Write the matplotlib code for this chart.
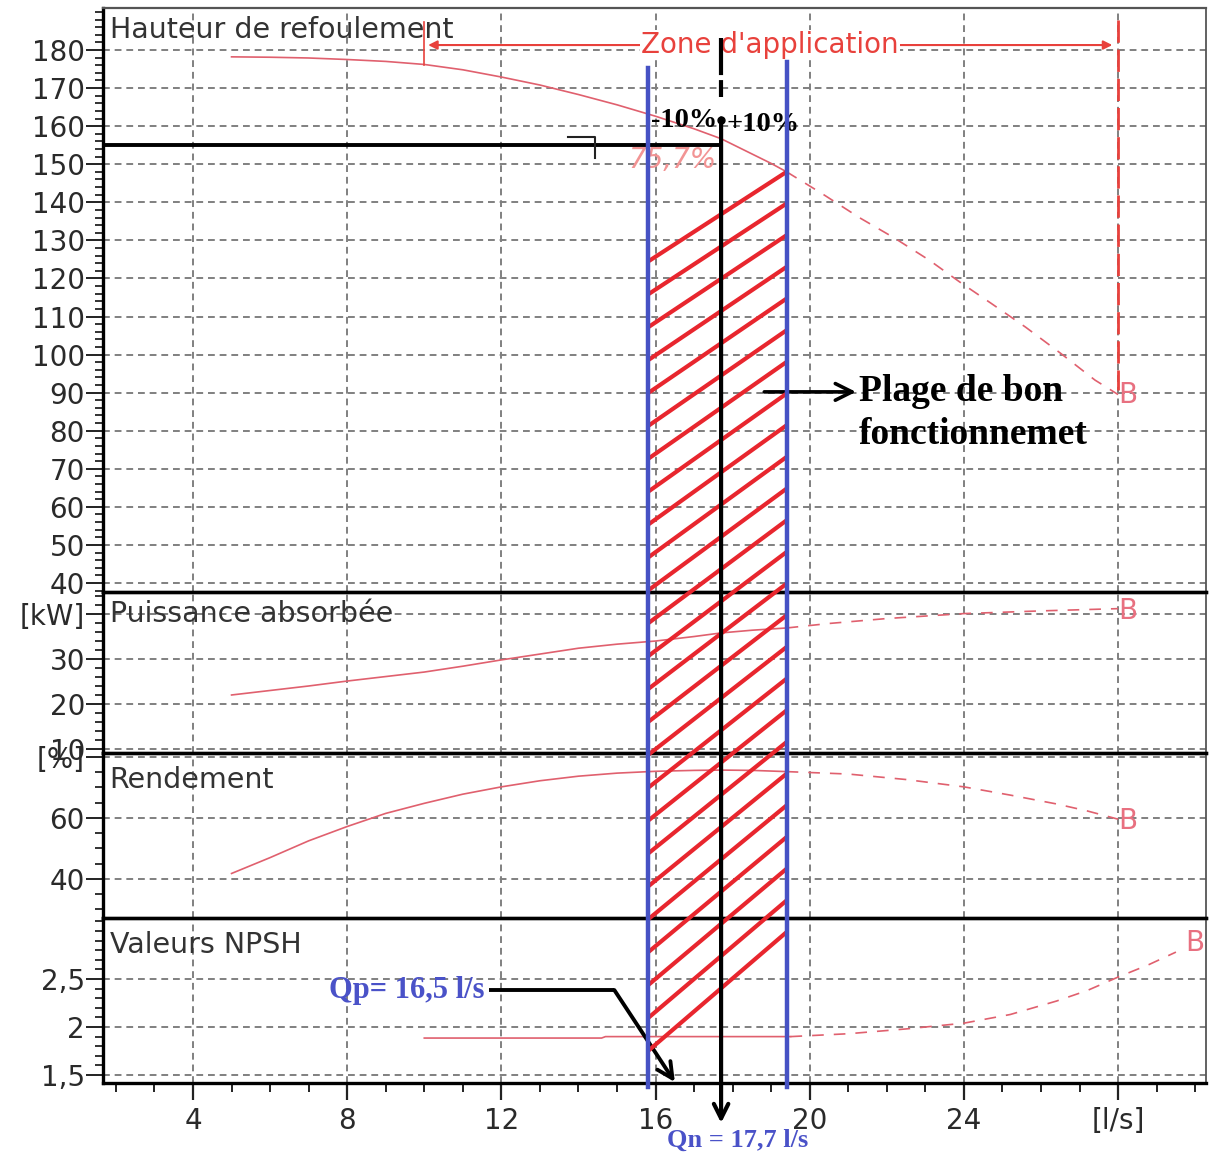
import numpy as np
import matplotlib
matplotlib.use("Agg")
import matplotlib.pyplot as plt
from matplotlib.ticker import MultipleLocator, FixedLocator

# ---------------------------------------------------------------- data
# Head curve H(Q): solid over the selected range, dashed beyond
q_head = [5, 6, 7, 8, 9, 10, 11, 12, 13, 14, 15, 16, 17, 17.7, 18, 19, 19.4]
head = [178.2, 178.1, 177.9, 177.5, 177.0, 176.2, 174.8, 172.9, 170.8, 168.3,
        165.6, 162.6, 159.3, 156.7, 155.2, 150.2, 148.0]
q_head_ext = [19.4, 20.3, 21.3, 22.2, 23.1, 23.9, 24.7, 25.6, 26.5, 27.4, 28.0]
head_ext = [148.0, 142.4, 135.9, 130.6, 124.8, 119.0, 113.5, 107.2, 100.4, 93.3, 89.5]

# Absorbed power P(Q) [kW]
q_pow = [5, 6, 7, 8, 9, 10, 11, 12, 13, 14, 15, 16, 17, 17.7, 18.5, 19.4]
power = [22.0, 23.0, 24.0, 25.1, 26.1, 27.1, 28.4, 29.8, 31.1, 32.4, 33.3,
         34.0, 35.0, 35.8, 36.4, 36.9]
q_pow_ext = [19.4, 20.5, 22.0, 24.0, 26.0, 28.0]
power_ext = [36.9, 37.9, 39.0, 40.1, 40.7, 41.2]

# Efficiency eta(Q) [%]
q_eff = [5, 6, 7, 8, 9, 10, 11, 12, 13, 14, 15, 16, 17, 17.7, 18.5, 19.4]
eff = [41.8, 47.0, 52.5, 57.2, 61.5, 64.8, 67.8, 70.2, 72.2, 73.7, 74.7,
       75.3, 75.6, 75.7, 75.6, 75.2]
q_eff_ext = [19.4, 21.0, 22.5, 24.0, 25.2, 26.4, 27.2, 28.0]
eff_ext = [75.2, 74.4, 72.6, 70.2, 67.5, 64.6, 62.3, 59.6]

# NPSH(Q) [m]
q_npsh = [10, 14.6, 14.7, 19.5]
npsh = [1.885, 1.885, 1.9, 1.9]
q_npsh_ext = [19.5, 21.0, 22.5, 24.0, 25.2, 26.4, 27.2, 28.0, 28.8, 29.5]
npsh_ext = [1.9, 1.93, 1.98, 2.04, 2.13, 2.27, 2.38, 2.52, 2.65, 2.78]

# end-of-curve "B" markers (Q, value) for each panel
b_marks = [(28.0, 89.5), (28.0, 40.6), (28.0, 59.0), (29.75, 2.87)]

# Operating point and range
Q_N = 17.7      # nominal flow [l/s]
Q_P = 16.5      # Qp [l/s]
H_N = 155.0     # head at the operating point [m]
Q_LOW = 15.8    # -10 %
Q_HIGH = 19.4   # +10 %
ZONE_START, ZONE_END = 10.0, 28.0
ETA_N = "75,7%"

x_ticks = [4, 8, 12, 16, 20, 24, 28]
x_labels = ["4", "8", "12", "16", "20", "24", "[l/s]"]
h_ticks = list(range(40, 190, 10))
p_ticks, p_labels = [10, 20, 30, 40], ["10", "20", "30", "[kW]"]
e_ticks, e_labels = [40, 60, 80], ["40", "60", "[%]"]
n_ticks, n_labels = [1.5, 2.0, 2.5], ["1,5", "2", "2,5"]

# ---------------------------------------------------------------- style
W, H = 1210, 1153
XLIM = (1.665, 30.28)
CURVE = "#e0606e"
HATCH = "#e8262e"
BLUE = "#4652c4"
ZONE_RED = "#e8413c"
TEXT_BLUE = "#4a52c8"
GRID_KW = dict(color="#808080", lw=1.4, ls=(0, (3.5, 2.5)))
SERIF_B = dict(family="Liberation Serif", weight="bold")

fig = plt.figure(figsize=(W / 100, H / 100), dpi=100)
fig.patch.set_facecolor("white")

X0, X1 = 103, 1206


def rect(top, bottom):
    return [X0 / W, 1 - bottom / H, (X1 - X0) / W, (bottom - top) / H]


panels = [(8, 592), (592, 753), (753, 918), (918, 1083)]
ylims = [(37.64, 191.03), (9.1, 44.9), (27.2, 81.3), (1.417, 3.135)]
minors = [2, 2, 5, 0.1]
axes = []
for i, ((t, b), yl, mn) in enumerate(zip(panels, ylims, minors)):
    ax = fig.add_axes(rect(t, b))
    ax.patch.set_alpha(0)
    ax.set_xlim(*XLIM)
    ax.set_ylim(*yl)
    ax.xaxis.set_major_locator(FixedLocator(x_ticks))
    ax.xaxis.set_minor_locator(MultipleLocator(1))
    ax.yaxis.set_minor_locator(MultipleLocator(mn))
    ax.grid(True, which="major", **GRID_KW)
    ax.set_axisbelow(True)
    ax.tick_params(axis="y", which="major", direction="out", length=12,
                   width=1.4, labelsize=20, pad=1, color="#222",
                   labelcolor="#2a2a2a")
    ax.tick_params(axis="y", which="minor", direction="out", length=5.5,
                   width=1.3, color="#222")
    for s in ("left", "bottom"):
        ax.spines[s].set_linewidth(2.4)
        ax.spines[s].set_color("black")
    ax.spines["right"].set_linewidth(1.3)
    ax.spines["right"].set_color("#555")
    if i == 0:
        ax.spines["top"].set_linewidth(1.6)
        ax.spines["top"].set_color("#555")
    else:
        ax.spines["top"].set_linewidth(2.4)
        ax.spines["top"].set_color("black")
    if i < 3:
        ax.tick_params(axis="x", which="both", length=0, labelbottom=False)
    else:
        ax.set_xticklabels(x_labels)
        ax.tick_params(axis="x", which="major", direction="out", length=12,
                       width=1.6, labelsize=20, pad=5, color="#222",
                       labelcolor="#2a2a2a")
        ax.tick_params(axis="x", which="minor", direction="out", length=6.5,
                       width=1.4, color="#222")
    axes.append(ax)

ax_h, ax_p, ax_e, ax_n = axes
ax_h.set_yticks(h_ticks)
ax_p.set_yticks(p_ticks, p_labels)
ax_e.set_yticks(e_ticks, e_labels)
ax_n.set_yticks(n_ticks, n_labels)

label_kw = dict(fontsize=20.5, color="#333", ha="left", va="center")
ax_h.text(0.006, 0.962, "Hauteur de refoulement", transform=ax_h.transAxes, **label_kw)
ax_p.text(0.006, 0.863, "Puissance absorbée", transform=ax_p.transAxes, **label_kw)
ax_e.text(0.006, 0.836, "Rendement", transform=ax_e.transAxes, **label_kw)
ax_n.text(0.006, 0.836, "Valeurs NPSH", transform=ax_n.transAxes, **label_kw)

# characteristic curves
DASH = (0, (7, 6))
curves = [(ax_h, q_head, head, q_head_ext, head_ext),
          (ax_p, q_pow, power, q_pow_ext, power_ext),
          (ax_e, q_eff, eff, q_eff_ext, eff_ext),
          (ax_n, q_npsh, npsh, q_npsh_ext, npsh_ext)]
for (ax, qa, ya, qb, yb), (qm, ym) in zip(curves, b_marks):
    ax.plot(qa, ya, color=CURVE, lw=1.2)
    ax.plot(qb, yb, color=CURVE, lw=1.2, ls=DASH)
    ax.text(qm, ym, "B", color="#e87080", fontsize=20, ha="left", va="center")

# application zone
y_zone = 181.3
ax_h.annotate("", xy=(ZONE_END - 0.15, y_zone), xytext=(ZONE_START + 0.1, y_zone),
              arrowprops=dict(arrowstyle="<|-|>", color=ZONE_RED, lw=1.5,
                              mutation_scale=13, shrinkA=0, shrinkB=0))
ax_h.text(18.97, y_zone, "Zone d'application", color=ZONE_RED, fontsize=20,
          ha="center", va="center",
          bbox=dict(facecolor="white", edgecolor="none", pad=0.5))
ax_h.plot([ZONE_START, ZONE_START], [187.35, 176.1], color=ZONE_RED, lw=1.2)
ax_h.plot([ZONE_END, ZONE_END], [187.9, 90.7], color=ZONE_RED, lw=2.0,
          ls=(0, (8, 2.5)))

# operating point
ax_h.text(16.43, 151.1, ETA_N, color="#f29494", fontsize=20, style="italic",
          ha="center", va="center")
ax_h.plot([XLIM[0], Q_N], [H_N, H_N], color="black", lw=2.8, solid_capstyle="butt")
ax_h.plot([13.72, 14.42, 14.42], [157.1, 157.1, 151.6], color="#222", lw=1.5)
ax_h.text(17.6, 161.4, "-10%", fontsize=20.5, ha="right", va="center", **SERIF_B)
ax_h.text(17.85, 160.4, "+10%", fontsize=20.5, ha="left", va="center", **SERIF_B)

ax_h.annotate("", xy=(21.2, 90.2), xytext=(18.82, 90.2),
              arrowprops=dict(arrowstyle="->", color="black", lw=2.6,
                              mutation_scale=30, shrinkA=0, shrinkB=0))
ax_h.text(21.28, 90.2, "Plage de bon", fontsize=27, ha="left", va="center", **SERIF_B)
ax_h.text(21.28, 78.9, "fonctionnemet", fontsize=27, ha="left", va="center", **SERIF_B)

# Qp / Qn callouts
y_qp = 2.385
ax_n.text(11.55, y_qp, "Qp= 16,5 l/s", color=TEXT_BLUE, fontsize=22,
          ha="right", va="center", **SERIF_B)
ax_n.plot([11.69, 14.93], [y_qp, y_qp], color="black", lw=2.8,
          solid_capstyle="butt")
ax_n.annotate("", xy=(Q_P, 1.427), xytext=(14.93, y_qp), annotation_clip=False,
              arrowprops=dict(arrowstyle="->", color="black", lw=2.8,
                              mutation_scale=28, shrinkA=0, shrinkB=0))
ax_n.text(Q_N - 1.4, 0.823, "Qn = 17,7 l/s", color=TEXT_BLUE, fontsize=19,
          ha="left", va="center", clip_on=False, **SERIF_B)

# overlay spanning all four panels, sharing the head scale of the top panel
top_h, bot_h = panels[0][1] - panels[0][0], panels[-1][1] - panels[0][0]
ov_lo = ylims[0][1] - (ylims[0][1] - ylims[0][0]) * bot_h / top_h
ov = fig.add_axes(rect(panels[0][0], panels[-1][1]))
ov.set_xlim(*XLIM)
ov.set_ylim(ov_lo, ylims[0][1])
ov.axis("off")
ov.patch.set_alpha(0)

# hatching of the good operating range
n_hatch = 25
y_right0 = float(np.interp(Q_HIGH, q_head, head))
y_left0 = y_right0 - 23.6
for i in range(n_hatch):
    ov.plot([Q_LOW, Q_HIGH], [y_left0 - 8.64 * i, y_right0 - 8.32 * i],
            color=HATCH, lw=3.0, solid_capstyle="butt")

ov.plot([Q_LOW, Q_LOW], [175.3, ov_lo - 1.0], color=BLUE, lw=3.2, clip_on=False)
ov.plot([Q_HIGH, Q_HIGH], [176.8, ov_lo - 1.0], color=BLUE, lw=3.2, clip_on=False)

ov.plot([Q_N, Q_N], [183.2, 167.6], color="black", lw=3.0,
        ls=(0, (8.9, 1.2, 4.1, 20)))
ov.annotate("", xy=(Q_N, ov_lo - 10.5), xytext=(Q_N, 162.0), annotation_clip=False,
            arrowprops=dict(arrowstyle="->", color="black", lw=3.0,
                            mutation_scale=26, shrinkA=0, shrinkB=0))
ov.plot([Q_N], [161.7], marker="o", ms=5, color="black")

fig.savefig("out.png", dpi=100, facecolor="white")
